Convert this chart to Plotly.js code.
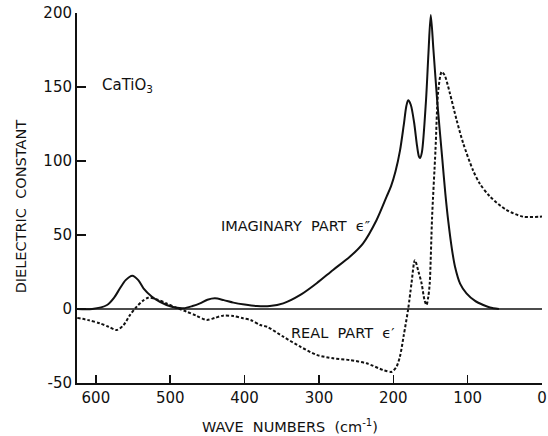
<!DOCTYPE html>
<html>
<head>
<meta charset="utf-8">
<script src="https://cdn.plot.ly/plotly-3.0.1.min.js"></script>
<style>html,body{margin:0;padding:0;background:#fff;}#chart{width:548px;height:436px;}</style>
</head>
<body>
<div id="chart"></div>
<script>
// Imaginary part ε'' (solid)
const imagWave = [625, 605, 585, 575, 567.6, 560, 551, 543, 536, 525, 514, 498, 482, 470, 460, 450, 440, 428, 415, 400, 383.5, 366, 348, 325, 303, 281, 258.5, 240.6, 222.6, 209, 203, 197, 191, 186, 182.5, 180, 176.5, 172, 168, 165.5, 164, 161.5, 156, 152.7, 149.6, 146, 141, 134, 130, 126, 121, 117, 110, 101.6, 90, 79, 70, 58];
const imagVal  = [0, 0, 2.7, 8, 14, 19.5, 22.5, 19.5, 14, 8.5, 4.9, 1.5, 0.5, 2, 3.8, 6.2, 7.2, 6, 4.3, 3, 2, 2, 3.8, 9.5, 17.4, 26.4, 35.3, 44.4, 60, 75.9, 83, 93, 107, 124, 137, 141, 138, 126, 110, 103, 102, 106, 141, 173, 198.6, 175, 141, 100.7, 78, 59, 40, 28.6, 17, 10.6, 5.5, 2.7, 1, 0];
// Real part ε' (dashed)
const realWave = [625, 610, 594.5, 583, 572, 563, 554, 545, 537, 529.6, 518, 505, 490, 478, 465, 451, 440, 429, 415, 402, 392, 379, 370, 348, 325, 303, 281, 258.5, 236, 213.6, 202, 195.7, 191, 186, 180, 175.5, 171, 166, 162, 158, 155.4, 153, 151, 147.8, 143.3, 140, 137, 135, 131, 124, 115, 106, 93, 84, 70, 48, 25.5, 3, 0];
const realVal  = [-6, -7.5, -9.7, -12, -14.2, -11, -4, 1.6, 5.5, 7.6, 6.5, 3.8, 0.5, -1.8, -4.5, -7.4, -6, -4.5, -4.8, -6.3, -7.4, -10.8, -12, -18.7, -25.5, -31, -33.3, -34.5, -36.7, -41.2, -42.4, -39, -32, -18, 0, 17.4, 33, 25, 17.4, 6, 2.7, 8, 17.4, 62.4, 107, 145, 157, 160.3, 158, 146, 128, 112, 94, 85, 76, 67, 62.4, 62.4, 62.5];
const xTicks = [600, 500, 400, 300, 200, 100, 0];
const yTicks = [-50, 0, 50, 100, 150, 200];

const FONT = 'DejaVu Sans, sans-serif';
const INK = '#111';

const traces = [
  {x: imagWave, y: imagVal, mode: 'lines', line: {color: INK, width: 2, shape: 'spline', smoothing: 0.8}, hoverinfo: 'skip'},
  {x: realWave, y: realVal, mode: 'lines', line: {color: INK, width: 2, dash: '3px,2px', shape: 'spline', smoothing: 0.8}, hoverinfo: 'skip'}
];

const layout = {
  width: 548, height: 436,
  margin: {l: 77, r: 6, t: 13, b: 53},
  paper_bgcolor: '#fff', plot_bgcolor: '#fff',
  showlegend: false,
  font: {family: FONT, color: INK, size: 15},
  xaxis: {
    range: [625.4, 0], tickvals: xTicks, ticktext: xTicks.map(String),
    showgrid: false, zeroline: false, showline: true, linecolor: INK, linewidth: 2,
    ticks: 'inside', ticklen: 8, tickwidth: 1.5, tickcolor: INK,
    tickfont: {family: FONT, size: 15, color: INK}
  },
  yaxis: {
    range: [-50, 200], tickvals: yTicks, ticktext: yTicks.map(String),
    showgrid: false, zeroline: false, showline: true, linecolor: INK, linewidth: 2,
    ticks: 'inside', ticklen: 9, tickwidth: 1.5, tickcolor: INK,
    tickfont: {family: FONT, size: 15, color: INK}
  },
  shapes: [
    {type: 'line', xref: 'paper', x0: 0, x1: 1, yref: 'y', y0: 0, y1: 0, line: {color: INK, width: 1.5}}
  ],
  annotations: [
    {text: 'CaTiO<sub>3</sub>', xref: 'paper', yref: 'paper', x: 0.05, y: 0.805, xanchor: 'left', yanchor: 'middle', showarrow: false, font: {family: FONT, size: 15, color: INK}},
    {text: 'IMAGINARY  PART  ϵ″', xref: 'paper', yref: 'paper', x: 0.306, y: 0.424, xanchor: 'left', yanchor: 'middle', showarrow: false, font: {family: FONT, size: 14.5, color: INK}},
    {text: 'REAL  PART  ϵ′', xref: 'paper', yref: 'paper', x: 0.456, y: 0.135, xanchor: 'left', yanchor: 'middle', showarrow: false, font: {family: FONT, size: 14.5, color: INK}},
    {text: 'WAVE  NUMBERS  (cm<sup>-1</sup>)', xref: 'paper', yref: 'paper', x: 0.458, y: -0.116, xanchor: 'center', yanchor: 'middle', showarrow: false, font: {family: FONT, size: 14.5, color: INK}},
    {text: 'DIELECTRIC  CONSTANT', xref: 'paper', yref: 'paper', x: -0.12, y: 0.478, xanchor: 'center', yanchor: 'middle', textangle: -90, showarrow: false, font: {family: FONT, size: 14.5, color: INK}}
  ]
};

Plotly.newPlot('chart', traces, layout, {staticPlot: true, displayModeBar: false});
</script>
</body>
</html>
